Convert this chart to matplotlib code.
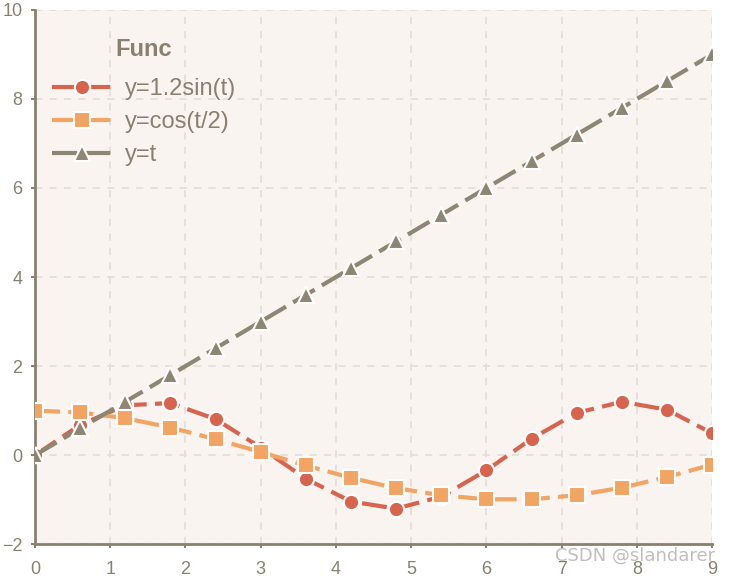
import matplotlib
matplotlib.use("Agg")
import matplotlib.pyplot as plt

plt.rcParams['font.family'] = ['Liberation Sans', 'DejaVu Sans']

t = [0.0, 0.6, 1.2, 1.8, 2.4, 3.0, 3.6, 4.2, 4.8, 5.4, 6.0, 6.6, 7.2, 7.8, 8.4, 9.0]
y_sin = [0.0, 0.68, 1.12, 1.17, 0.81, 0.17, -0.53, -1.04, -1.20, -0.93, -0.34, 0.37, 0.95, 1.20, 1.02, 0.49]
y_cos = [1.0, 0.96, 0.83, 0.62, 0.36, 0.07, -0.23, -0.51, -0.74, -0.90, -0.99, -0.99, -0.90, -0.73, -0.49, -0.21]
y_lin = [0.0, 0.6, 1.2, 1.8, 2.4, 3.0, 3.6, 4.2, 4.8, 5.4, 6.0, 6.6, 7.2, 7.8, 8.4, 9.0]
labels = ['y=1.2sin(t)', 'y=cos(t/2)', 'y=t']

axis_col = '#8a8070'
colors = ['#d8644e', '#f2a462', '#8c8672']
markers = ['o', 's', '^']

fig = plt.figure(figsize=(7.29, 5.79), dpi=100)
ax = fig.add_axes([0.048, 0.06, 0.929, 0.923])
ax.set_facecolor('#faf4f1')

for ys, lab, c, m in zip([y_sin, y_cos, y_lin], labels, colors, markers):
    ax.plot(t, ys, color=c, lw=3, ls=(0, (6, 2)), marker=m, markersize=11,
            markeredgecolor='white', markeredgewidth=1.5, label=lab, zorder=3)

ax.set_xlim(0, 9)
ax.set_ylim(-2, 10)
ax.set_xticks(range(0, 10))
ax.set_yticks(range(-2, 11, 2))
ax.grid(True, color='#e4deda', ls=(0, (4, 4)), lw=1.3)
ax.set_axisbelow(True)

for side in ['top', 'right']:
    ax.spines[side].set_visible(False)
for side in ['left', 'bottom']:
    ax.spines[side].set_color(axis_col)
    ax.spines[side].set_linewidth(2)
ax.tick_params(colors=axis_col, labelsize=13, length=3, width=1.5, direction='out')
ax.tick_params(axis='x', pad=9)
ax.tick_params(axis='y', pad=6)

leg = ax.legend(title='Func', loc='upper left', frameon=False, fontsize=17,
                title_fontproperties={'weight': 'bold', 'size': 17},
                handlelength=2.6, handletextpad=0.5, labelspacing=0.48,
                borderaxespad=0.3, bbox_to_anchor=(0.0, 0.978))
leg._legend_box.sep = 12  # a bit more room under the title
leg.get_title().set_color(axis_col)
for txt in leg.get_texts():
    txt.set_color(axis_col)

fig.text(0.762, 0.032, 'CSDN @slandarer', color='#b8b2ae', fontsize=13,
         family='DejaVu Sans', alpha=0.85)

fig.savefig('out.png', dpi=100)
